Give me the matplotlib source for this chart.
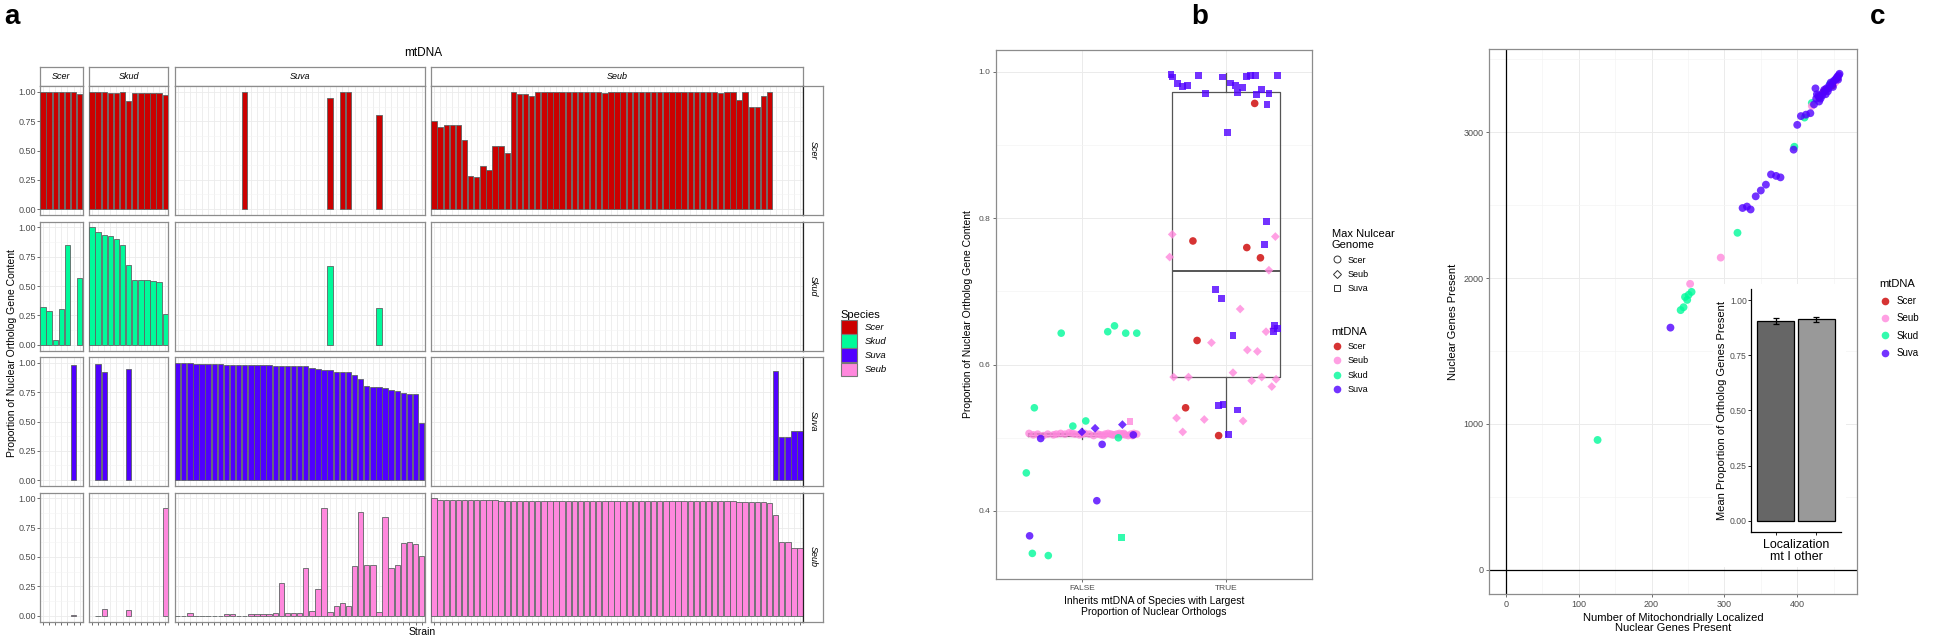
import numpy as np
import matplotlib
matplotlib.use('Agg')
import matplotlib.pyplot as plt
from matplotlib.lines import Line2D
from matplotlib.patches import Patch, Rectangle

plt.rcParams['font.family'] = ['Liberation Sans', 'DejaVu Sans']

nan = np.nan
# ---------------- Panel a data (mtDNA column x nuclear species row) ----------------
species = ['Scer', 'Skud', 'Suva', 'Seub']
species_colors = ['#CC0000', '#00FA9A', '#5000FF', '#FF88DD']

scer_mt_scer = [1.0, 1.0, 1.0, 1.0, 1.0, 1.0, 0.98]
scer_mt_skud = [0.32, 0.29, 0.04, 0.30, 0.85, nan, 0.57]
scer_mt_suva = [nan, nan, nan, nan, nan, 0.985, nan]
scer_mt_seub = [nan, nan, nan, nan, nan, 0.005, nan]

skud_mt_scer = [1.0, 1.0, 1.0, 0.99, 0.99, 1.0, 0.92, 0.99, 0.99, 0.99, 0.99, 0.99, 0.975]
skud_mt_skud = [1.0, 0.96, 0.935, 0.93, 0.905, 0.85, 0.68, 0.555, 0.555, 0.555, 0.545, 0.53, 0.265]
skud_mt_suva = [nan, 0.99, 0.925, nan, nan, nan, 0.945, nan, nan, nan, nan, nan, nan]
skud_mt_seub = [nan, 0.0, 0.06, nan, nan, nan, 0.05, nan, nan, nan, nan, nan, 0.92]

suva_mt_scer = [nan, nan, nan, nan, nan, nan, nan, nan, nan, nan, nan, 1.0, nan, nan,
                nan, nan, nan, nan, nan, nan, nan, nan, nan, nan, nan, 0.945, nan, 1.0,
                1.0, nan, nan, nan, nan, 0.805, nan, nan, nan, nan, nan, nan, nan]
suva_mt_skud = [nan, nan, nan, nan, nan, nan, nan, nan, nan, nan, nan, nan, nan, nan,
                nan, nan, nan, nan, nan, nan, nan, nan, nan, nan, nan, 0.67, nan, nan,
                nan, nan, nan, nan, nan, 0.31, nan, nan, nan, nan, nan, nan, nan]
suva_mt_suva = [1.0, 0.998, 0.995, 0.993, 0.993, 0.993, 0.993, 0.99, 0.985, 0.983, 0.983,
                0.98, 0.98, 0.98, 0.98, 0.978, 0.975, 0.975, 0.975, 0.972, 0.97, 0.97,
                0.955, 0.945, 0.935, 0.935, 0.92, 0.92, 0.92, 0.90, 0.86, 0.80, 0.795,
                0.795, 0.785, 0.77, 0.76, 0.74, 0.735, 0.735, 0.49]
suva_mt_seub = [0.0, 0.0, 0.02, 0.0, 0.0, 0.0, 0.0, 0.0, 0.01, 0.01, 0.0, 0.0, 0.01, 0.01,
                0.01, 0.01, 0.02, 0.28, 0.02, 0.025, 0.025, 0.41, 0.04, 0.23, 0.92, 0.03,
                0.08, 0.11, 0.08, 0.42, 0.88, 0.43, 0.43, 0.03, 0.84, 0.41, 0.43, 0.62,
                0.63, 0.61, 0.51]

seub_mt_scer = [0.754, 0.697, 0.714, 0.714, 0.714, 0.586, 0.286, 0.277, 0.371, 0.337,
                0.54, 0.54, 0.48, 1.0, 0.986, 0.986, 0.963, 1.0, 1.0, 1.0, 1.0, 1.0, 1.0,
                1.0, 1.0, 1.0, 1.0, 1.0, 0.99, 1.0, 1.0, 1.0, 1.0, 1.0, 1.0, 1.0, 1.0,
                1.0, 1.0, 1.0, 1.0, 1.0, 1.0, 1.0, 1.0, 1.0, 1.0, 0.99, 1.0, 1.0, 0.93,
                1.0, 0.87, 0.87, 0.963, 1.0, nan, nan, nan, nan, nan]
seub_mt_skud = [nan] * 61
seub_mt_suva = [nan] * 56 + [0.93, 0.37, 0.37, 0.42, 0.42]
seub_mt_seub = [1.0, 0.99, 0.99, 0.99, 0.99, 0.99, 0.985, 0.985, 0.985, 0.985, 0.985,
                0.98, 0.98, 0.98, 0.98, 0.975, 0.975, 0.975, 0.975, 0.975, 0.975, 0.975,
                0.975, 0.975, 0.975, 0.975, 0.975, 0.975, 0.975, 0.975, 0.975, 0.975,
                0.975, 0.975, 0.975, 0.975, 0.975, 0.975, 0.975, 0.975, 0.975, 0.975,
                0.975, 0.975, 0.975, 0.975, 0.975, 0.975, 0.975, 0.975, 0.97, 0.97,
                0.965, 0.965, 0.965, 0.96, 0.86, 0.63, 0.63, 0.58, 0.58]

# ---------------- Panel b data ----------------
b_categories = ['FALSE', 'TRUE']
# FALSE group (position 1)
b_false_skud_scer_x = [0.854, 1.178, 1.225, 1.303, 1.380, 0.667, 1.025, 0.935, 1.252, 0.611, 0.653, 0.764]
b_false_skud_scer_y = [0.643, 0.645, 0.653, 0.643, 0.643, 0.541, 0.523, 0.516, 0.500, 0.452, 0.342, 0.339]
b_false_skud_suva_x = [1.273]
b_false_skud_suva_y = [0.364]
b_false_suva_scer_x = [0.634, 1.102, 1.139, 0.711, 1.356]
b_false_suva_scer_y = [0.366, 0.414, 0.491, 0.499, 0.504]
b_false_suva_seub_x = [0.998, 1.090, 1.280]
b_false_suva_seub_y = [0.508, 0.513, 0.518]
b_false_seub_suva_x = [1.333]
b_false_seub_suva_y = [0.522]
b_false_seub_scer_x = [0.63, 0.69, 0.73, 0.76, 0.80, 0.85, 0.88, 0.91, 0.95, 0.98, 1.02, 1.05,
                       1.08, 1.11, 1.13, 1.16, 1.18, 1.20, 1.22, 1.24, 1.26, 1.28, 1.30, 1.32,
                       1.34, 1.36, 1.38, 0.66, 0.93, 1.15, 1.21, 1.29, 0.82, 1.00, 1.27, 1.35]
b_false_seub_scer_y = [0.506, 0.505, 0.503, 0.505, 0.504, 0.506, 0.505, 0.507, 0.505, 0.504,
                       0.506, 0.505, 0.503, 0.505, 0.504, 0.505, 0.506, 0.505, 0.504, 0.505,
                       0.506, 0.505, 0.504, 0.503, 0.505, 0.506, 0.505, 0.504, 0.506, 0.503,
                       0.504, 0.506, 0.505, 0.505, 0.504, 0.503]
# TRUE group (position 2)
b_true_suva_suva_x = [1.618, 1.627, 1.664, 1.699, 1.731, 1.808, 1.861, 1.979, 2.032, 2.069,
                      2.116, 2.079, 2.144, 2.171, 2.206, 2.248, 2.213, 2.301, 2.359, 2.287,
                      2.009, 2.282, 2.271, 1.93, 1.97, 2.34, 2.36, 2.33, 2.05, 1.95, 2.08,
                      1.98, 2.02]
b_true_suva_suva_y = [0.996, 0.993, 0.984, 0.980, 0.982, 0.995, 0.970, 0.993, 0.985, 0.981,
                      0.979, 0.972, 0.994, 0.995, 0.995, 0.976, 0.969, 0.970, 0.995, 0.956,
                      0.917, 0.796, 0.764, 0.703, 0.690, 0.653, 0.649, 0.645, 0.640, 0.544,
                      0.538, 0.546, 0.504]
b_true_scer_scer_x = [2.201, 1.771, 2.146, 2.241, 1.80, 1.72, 1.95]
b_true_scer_scer_y = [0.957, 0.769, 0.760, 0.746, 0.633, 0.541, 0.503]
b_true_seub_seub_x = [1.627, 1.609, 2.345, 1.637, 1.657, 2.30, 2.10, 2.33, 2.28, 1.90, 2.15,
                      2.22, 2.05, 2.25, 2.35, 1.74, 2.18, 2.32, 1.85, 2.12, 1.70]
b_true_seub_seub_y = [0.778, 0.747, 0.775, 0.583, 0.527, 0.729, 0.676, 0.649, 0.645, 0.630,
                      0.620, 0.618, 0.589, 0.583, 0.580, 0.583, 0.578, 0.570, 0.525, 0.523,
                      0.508]
# box statistics
box_whislo = [0.499, 0.503]
box_q1 = [0.503, 0.583]
box_med = [0.505, 0.728]
box_q3 = [0.507, 0.972]
box_whishi = [0.513, 0.999]

# ---------------- Panel c data ----------------
c_skud_x = [126, 244, 249, 251, 318, 396, 410, 420, 431, 445, 255, 240, 246]
c_skud_y = [890, 1800, 1850, 1885, 2310, 2900, 3100, 3200, 3240, 3330, 1905, 1780, 1870]
c_suva_x = [226, 325, 331, 336, 343, 350, 357, 364, 371, 377, 395, 400, 405, 412, 418, 423,
            426, 429, 432, 435, 437, 440, 442, 444, 446, 448, 450, 452, 454, 455, 457, 458,
            456, 449, 443, 439, 434, 430, 427, 425]
c_suva_y = [1660, 2480, 2490, 2470, 2560, 2600, 2640, 2710, 2700, 2690, 2880, 3050, 3110,
            3120, 3130, 3190, 3230, 3250, 3230, 3270, 3290, 3300, 3280, 3320, 3340, 3330,
            3350, 3360, 3370, 3380, 3390, 3400, 3360, 3310, 3300, 3260, 3250, 3210, 3260, 3300]
c_seub_x = [253, 295, 420, 440, 452]
c_seub_y = [1960, 2140, 3180, 3290, 3340]
c_scer_x = [437, 448, 455, 430]
c_scer_y = [3280, 3320, 3370, 3240]
inset_labels = ['mt', 'other']
inset_means = [0.905, 0.913]
inset_err = [0.012, 0.012]

# ---------------- figure ----------------
W, H = 1950, 641
fig = plt.figure(figsize=(W / 100, H / 100), dpi=100)


def add_ax(l, t, r, b, **kw):
    return fig.add_axes([l / W, 1 - b / H, (r - l) / W, (b - t) / H], **kw)


GRID = '#EBEBEB'
BORDER = '#8C8C8C'
TICKC = '#4D4D4D'

# ================= Panel a =================
col_data = {
    'Scer': [scer_mt_scer, scer_mt_skud, scer_mt_suva, scer_mt_seub],
    'Skud': [skud_mt_scer, skud_mt_skud, skud_mt_suva, skud_mt_seub],
    'Suva': [suva_mt_scer, suva_mt_skud, suva_mt_suva, suva_mt_seub],
    'Seub': [seub_mt_scer, seub_mt_skud, seub_mt_suva, seub_mt_seub],
}
step = 6.1
col_left = [40, 89, 174.6, 431]
row_top = [86, 221.5, 357, 492.5]
row_h = 129

for c, mt in enumerate(species):
    rows = col_data[mt]
    n = len(rows[0])
    l = col_left[c]
    r = l + n * step
    # top strip
    sax = add_ax(l, 67, r, 86)
    sax.set_xticks([]); sax.set_yticks([])
    for s in sax.spines.values():
        s.set_color(BORDER); s.set_linewidth(0.9)
    sax.text(0.5, 0.5, mt, transform=sax.transAxes, ha='center', va='center',
             fontsize=6.5, style='italic')
    for ri, nuc in enumerate(species):
        t = row_top[ri]
        ax = add_ax(l, t, r, t + row_h)
        vals = np.array(rows[ri], dtype=float)
        idx = np.where(~np.isnan(vals))[0]
        ax.bar(idx, vals[idx], width=0.9, color=species_colors[ri], edgecolor='#5e6464',
               linewidth=0.6, zorder=3)
        ax.set_xlim(-0.5, n - 0.5)
        ax.set_ylim(-0.05, 1.05)
        ax.set_yticks([0, 0.25, 0.5, 0.75, 1.0])
        ax.set_yticks([0.125, 0.375, 0.625, 0.875], minor=True)
        ax.set_xticks(np.arange(n))
        ax.grid(which='major', color=GRID, lw=0.6, zorder=0)
        ax.grid(which='minor', axis='y', color='#F4F4F4', lw=0.4, zorder=0)
        ax.set_axisbelow(True)
        for s in ax.spines.values():
            s.set_color(BORDER); s.set_linewidth(0.9)
        ax.tick_params(which='minor', length=0)
        if ri == 3:
            ax.tick_params(axis='x', length=2, width=0.5, color='#333333', labelbottom=False)
        else:
            ax.tick_params(axis='x', length=0, labelbottom=False)
        if c == 0:
            ax.set_yticklabels(['0.00', '0.25', '0.50', '0.75', '1.00'])
            ax.tick_params(axis='y', length=2, width=0.5, color='#333333', labelsize=6.5,
                           labelcolor=TICKC, pad=1)
        else:
            ax.tick_params(axis='y', length=0, labelleft=False)
        if c == 3:
            rax = add_ax(r, t, r + 20, t + row_h)
            rax.set_xticks([]); rax.set_yticks([])
            for s in rax.spines.values():
                s.set_color(BORDER); s.set_linewidth(0.9)
            rax.spines['left'].set_color('#222222')
            rax.text(0.5, 0.5, nuc, transform=rax.transAxes, ha='center', va='center',
                     fontsize=6.5, style='italic', rotation=-90)

fig.text(423 / W, 1 - 53 / H, 'mtDNA', ha='center', va='center', fontsize=8.5)
fig.text(422 / W, 1 - 632 / H, 'Strain', ha='center', va='center', fontsize=7.5)
fig.text(12 / W, 1 - 353 / H, 'Proportion of Nuclear Ortholog Gene Content', rotation=90,
         ha='center', va='center', fontsize=7.5)
leg_a = fig.legend(handles=[Patch(facecolor=cc, edgecolor='#777777', lw=0.8) for cc in species_colors],
                   labels=species, title='Species', loc='upper left',
                   bbox_to_anchor=(836 / W, 1 - 305 / H), frameon=False,
                   prop={'style': 'italic', 'size': 6.8}, title_fontsize=8,
                   handlelength=1.75, handleheight=1.85, labelspacing=0.05, handletextpad=0.8,
                   borderpad=0)
leg_a._legend_box.align = 'left'

# ================= Panel b =================
axb = add_ax(996, 50, 1312, 579)
stats = [dict(whislo=box_whislo[i], q1=box_q1[i], med=box_med[i], q3=box_q3[i],
              whishi=box_whishi[i], fliers=[]) for i in range(2)]
axb.bxp(stats, positions=[1, 2], widths=0.75, showfliers=False,
        boxprops=dict(color='#555555', lw=0.9), whiskerprops=dict(color='#555555', lw=0.9),
        capprops=dict(lw=0), medianprops=dict(color='#555555', lw=1.4), zorder=2)
axb.set_xlim(0.4, 2.6)
axb.set_ylim(0.307, 1.03)
axb.set_yticks([0.4, 0.6, 0.8, 1.0])
axb.set_yticklabels(['0.4', '0.6', '0.8', '1.0'])
axb.set_yticks([0.5, 0.7, 0.9], minor=True)
axb.set_xticks([1, 2])
axb.set_xticklabels(b_categories)
axb.grid(which='major', color=GRID, lw=0.7)
axb.grid(which='minor', axis='y', color='#F4F4F4', lw=0.5)
axb.set_axisbelow(True)
for s in axb.spines.values():
    s.set_color(BORDER); s.set_linewidth(0.9)
axb.tick_params(which='minor', length=0)
axb.tick_params(which='major', length=2, width=0.5, color='#333333', labelsize=6,
                labelcolor=TICKC, pad=2)

mt_colors = {'Scer': '#CC0000', 'Seub': '#FF88DD', 'Skud': '#00FA9A', 'Suva': '#5000FF'}
shape_of = {'Scer': 'o', 'Seub': 'D', 'Suva': 's'}
size_of = {'o': 30, 'D': 20, 's': 24}
b_sets = [
    (b_false_seub_scer_x, b_false_seub_scer_y, 'Seub', 'Scer'),
    (b_false_skud_scer_x, b_false_skud_scer_y, 'Skud', 'Scer'),
    (b_false_skud_suva_x, b_false_skud_suva_y, 'Skud', 'Suva'),
    (b_false_suva_scer_x, b_false_suva_scer_y, 'Suva', 'Scer'),
    (b_false_suva_seub_x, b_false_suva_seub_y, 'Suva', 'Seub'),
    (b_false_seub_suva_x, b_false_seub_suva_y, 'Seub', 'Suva'),
    (b_true_seub_seub_x, b_true_seub_seub_y, 'Seub', 'Seub'),
    (b_true_scer_scer_x, b_true_scer_scer_y, 'Scer', 'Scer'),
    (b_true_suva_suva_x, b_true_suva_suva_y, 'Suva', 'Suva'),
]
for xs, ys, mt, mx in b_sets:
    m = shape_of[mx]
    axb.scatter(xs, ys, marker=m, s=size_of[m], color=mt_colors[mt], alpha=0.8,
                edgecolors='none', zorder=4)
axb.set_ylabel('Proportion of Nuclear Ortholog Gene Content', fontsize=7.5, labelpad=4)
axb.set_xlabel('Inherits mtDNA of Species with Largest\nProportion of Nuclear Orthologs',
               fontsize=7.5, labelpad=3, linespacing=1.1)

shape_handles = [Line2D([], [], ls='', marker=shape_of[k], mfc='none', mec='#333333',
                        mew=0.7, ms=5 if k != 'Seub' else 4.3) for k in ['Scer', 'Seub', 'Suva']]
leg_b1 = fig.legend(handles=shape_handles, labels=['Scer', 'Seub', 'Suva'],
                    title='Max Nulcear\nGenome', loc='upper left',
                    bbox_to_anchor=(1327 / W, 1 - 224 / H), frameon=False, fontsize=6.5,
                    title_fontsize=8, handlelength=1.2, labelspacing=0.6,
                    handletextpad=0.6, borderpad=0)
leg_b1._legend_box.align = 'left'
col_handles = [Line2D([], [], ls='', marker='o', mfc=mt_colors[k], mec='none', alpha=0.8,
                      ms=5.5) for k in ['Scer', 'Seub', 'Skud', 'Suva']]
leg_b2 = fig.legend(handles=col_handles, labels=['Scer', 'Seub', 'Skud', 'Suva'],
                    title='mtDNA', loc='upper left', bbox_to_anchor=(1327 / W, 1 - 322 / H),
                    frameon=False, fontsize=6.5, title_fontsize=8, handlelength=1.2,
                    labelspacing=0.6, handletextpad=0.6, borderpad=0)
leg_b2._legend_box.align = 'left'

# ================= Panel c =================
axc = add_ax(1489, 49, 1857, 594)
axc.set_xlim(-23, 482)
axc.set_ylim(-166, 3570)
axc.set_xticks([0, 100, 200, 300, 400])
axc.set_xticks([50, 150, 250, 350, 450], minor=True)
axc.set_yticks([0, 1000, 2000, 3000])
axc.set_yticks([500, 1500, 2500, 3500], minor=True)
axc.grid(which='major', color=GRID, lw=0.7)
axc.grid(which='minor', color='#F4F4F4', lw=0.5)
axc.set_axisbelow(True)
for s in axc.spines.values():
    s.set_color(BORDER); s.set_linewidth(0.9)
axc.tick_params(which='minor', length=0)
axc.tick_params(which='major', length=2, width=0.5, color='#333333', labelsize=6.5,
                labelcolor=TICKC, pad=2)
axc.axhline(0, color='black', lw=0.9, zorder=1)
axc.axvline(0, color='black', lw=0.9, zorder=1)
for xs, ys, mt in [(c_skud_x, c_skud_y, 'Skud'), (c_seub_x, c_seub_y, 'Seub'),
                   (c_scer_x, c_scer_y, 'Scer'), (c_suva_x, c_suva_y, 'Suva')]:
    axc.scatter(xs, ys, s=32, color=mt_colors[mt], alpha=0.8, edgecolors='none', zorder=3)
axc.set_xlabel('Number of Mitochondrially Localized\nNuclear Genes Present', fontsize=8,
               labelpad=3, linespacing=1.0)
axc.set_ylabel('Nuclear Genes Present', fontsize=8, labelpad=4)
leg_c = fig.legend(handles=col_handles, labels=['Scer', 'Seub', 'Skud', 'Suva'],
                   title='mtDNA', loc='upper left', bbox_to_anchor=(1874 / W, 1 - 274 / H),
                   frameon=False, fontsize=7, title_fontsize=8, handlelength=1.2,
                   labelspacing=0.75, handletextpad=0.6, borderpad=0)
leg_c._legend_box.align = 'left'

# inset
bg = Rectangle((1713 / W, 1 - 567 / H), (1846 - 1713) / W, (567 - 284) / H,
               transform=fig.transFigure, facecolor='white', edgecolor='none', zorder=1)
fig.patches.append(bg)
axi = add_ax(1751, 289, 1841, 531.7)
axi.set_zorder(3)
axi.bar([1, 2], inset_means, width=0.9, color=['#666666', '#999999'], edgecolor='black',
        linewidth=0.9, zorder=2)
axi.errorbar([1, 2], inset_means, yerr=inset_err, fmt='none', ecolor='black', elinewidth=0.9,
             capsize=2.5, capthick=0.9, zorder=3)
axi.set_xlim(0.4, 2.6)
axi.set_ylim(-0.05, 1.05)
axi.set_yticks([0, 0.25, 0.5, 0.75, 1.0])
axi.set_yticklabels(['0.00', '0.25', '0.50', '0.75', '1.00'])
axi.set_xticks([1, 2])
axi.set_xticklabels(['', ''])
axi.spines['top'].set_visible(False)
axi.spines['right'].set_visible(False)
axi.spines['left'].set_linewidth(0.9)
axi.spines['bottom'].set_linewidth(0.9)
axi.tick_params(length=2, width=0.6, labelsize=6.2, labelcolor=TICKC, pad=1)
axi.set_xlabel('Localization\n' + ' I '.join(inset_labels), fontsize=9, labelpad=2,
               linespacing=1.05)
axi.set_ylabel('Mean Proportion of Ortholog Genes Present', fontsize=8, labelpad=2)

# panel letters
fig.text(4 / W, 1 - 4 / H, 'a', fontsize=20, fontweight='bold', ha='left', va='top')
fig.text(1191 / W, 1 - 4 / H, 'b', fontsize=20, fontweight='bold', ha='left', va='top')
fig.text(1870 / W, 1 - 4 / H, 'c', fontsize=20, fontweight='bold', ha='left', va='top')

fig.savefig('out.png', dpi=100, facecolor='white')
